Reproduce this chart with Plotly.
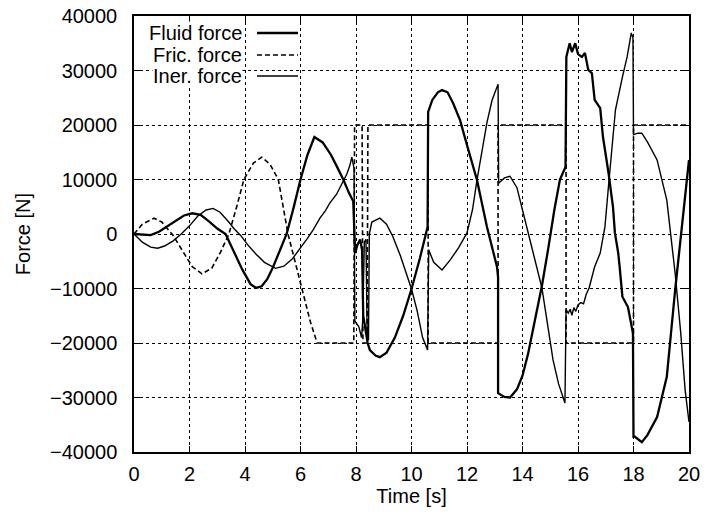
import plotly.graph_objects as go

# ---- data ----
# Fluid force (thick solid)
fluid_t = [0, 0.3, 0.6, 0.9, 1.2, 1.5, 1.8, 2.1, 2.4, 2.7, 3.0, 3.3, 3.6, 3.9, 4.2, 4.4, 4.6, 4.8, 5.0, 5.2,
           5.5, 5.75, 6.0, 6.25, 6.5, 6.8, 7.1, 7.3, 7.55, 7.75, 7.9,
           7.97, 8.05, 8.15, 8.22, 8.26, 8.35, 8.42, 8.5, 8.7, 8.86,
           9.1, 9.4, 9.7, 10.0, 10.3, 10.58,
           10.6, 10.75, 10.95, 11.1, 11.3, 11.5, 11.75, 12.0, 12.36, 12.72, 12.9, 13.08, 13.12,
           13.12, 13.35, 13.55, 13.8, 14.0, 14.2, 14.45, 14.7, 14.93, 15.15, 15.35, 15.55,
           15.58, 15.7, 15.78, 15.9, 16.0, 16.14, 16.25, 16.37, 16.5, 16.6, 16.8, 16.9, 17.1, 17.26, 17.33,
           17.45, 17.5, 17.6, 17.8, 17.98,
           18.0, 18.05, 18.3, 18.5, 18.85, 19.2, 19.5, 19.86, 20.0]
fluid_v = [0, -150, -200, 400, 1400, 2500, 3400, 3800, 3500, 2300, 1000, 0, -3200, -6500, -9200, -9900, -9600, -8300, -6200, -3700,
           0, 4800, 10000, 14500, 17800, 16800, 14500, 12500, 9900, 7500, 6000,
           -3500, -2000, -1000, -3000, -15000, -18000, -20000, -21300, -22300, -22600,
           -21800, -19000, -15000, -10100, -4500, 1300,
           22400, 24600, 26000, 26400, 26000, 24000, 20900, 16300, 9900, 1300, -2500, -6000, -7900,
           -29200, -29900, -30000, -28500, -26000, -22000, -16000, -9500, -2600, 4500, 10000, 12300,
           32500, 35000, 33400, 35000, 33000, 32500, 33200, 30100, 29500, 24600, 23100, 17800, 11200, 5000, 200,
           -3500, -6000, -11500, -13400, -18200,
           -37200, -37200, -38200, -36900, -33600, -26200, -10300, 6200, 13600]

# Friction force (dashed)
fric_t = [0, 0.3, 0.72, 1.0, 1.4, 1.8, 2.1, 2.45, 2.8, 3.1, 3.42, 3.7, 3.96, 4.3, 4.6, 4.9, 5.2, 5.55, 5.8, 6.05,
          6.35, 6.6, 7.92,
          7.95, 8.22, 8.25, 8.4, 8.43, 10.6,
          10.6, 13.12,
          13.12, 15.57,
          15.57, 18.0,
          18.0, 20.0]
fric_v = [0, 1800, 2900, 2200, -200, -3500, -6000, -7300, -6300, -3500, 0, 5000, 10000, 13000, 14100, 12800, 10000, 0, -5000, -9900,
          -16000, -20000, -20000,
          20000, 20000, -20000, -20000, 20000, 20000,
          -20000, -20000,
          20000, 20000,
          -20000, -20000,
          20000, 20000]

# Inertia force (thin solid)
iner_t = [0, 0.3, 0.6, 0.85, 1.1, 1.4, 1.7, 2.0, 2.3, 2.6, 2.85, 3.1, 3.4, 3.6, 3.85, 4.1, 4.4, 4.7, 5.1, 5.4,
          5.7, 6.0, 6.25, 6.45, 6.7, 6.9, 7.06, 7.3, 7.5, 7.67, 7.78, 7.85, 7.93,
          7.96, 8.1, 8.2, 8.24, 8.3, 8.36, 8.4, 8.45, 8.48, 8.57, 8.86,
          9.1, 9.33, 9.6, 9.8, 10.0, 10.2, 10.4, 10.58,
          10.62, 10.8, 11.1, 11.39, 11.7, 12.0, 12.2, 12.36, 12.55, 12.72, 12.9, 13.0, 13.12,
          13.14, 13.35, 13.55, 13.8, 14.0, 14.35, 14.7, 14.9, 15.1, 15.3, 15.53,
          15.57, 15.65, 15.72, 15.78, 15.85, 15.92, 16.0, 16.1, 16.2, 16.3, 16.4, 16.6, 16.8, 16.97,
          17.12, 17.35, 17.6, 17.77, 17.92, 17.98,
          18.0, 18.15, 18.3, 18.5, 18.85, 19.2, 19.5, 19.7, 19.86, 19.96, 20.0]
iner_v = [0, -1500, -2400, -2600, -2200, -1300, 0, 1500, 3300, 4400, 4700, 4000, 2300, 1000, -300, -2000, -3700, -5200, -6300, -5900,
          -4600, -2600, -800, 700, 2900, 4300, 5700, 7300, 9400, 11000, 12600, 14100, 12000,
          -16000, -17000, -19000, -16000, -1500, -1000, -18000, -19500, 0, 2200, 2900,
          1800, -500, -4000, -7000, -10100, -14000, -19000, -21300,
          -2900, -5200, -6600, -4800, -2500, 200, 4500, 9900, 15500, 20500, 24500, 26000, 27500,
          9300, 10300, 10600, 8500, 4400, -2500, -9900, -16500, -23100, -27500, -31000,
          -13900, -14500, -13800, -14900, -13500, -14200, -13000, -12600, -12800, -11000, -9900, -6000, -3500, 1300,
          10000, 22800, 28800, 32500, 36900, 36000,
          18200, 18500, 18500, 16900, 13600, 6200, -7200, -18000, -28600, -32800, -34500]

series_names = ["Fluid force", "Fric. force", "Iner. force"]
x_ticks = [0, 2, 4, 6, 8, 10, 12, 14, 16, 18, 20]
y_ticks = [-40000, -30000, -20000, -10000, 0, 10000, 20000, 30000, 40000]

FONT = "Liberation Sans, Arial, Helvetica, sans-serif"

fig = go.Figure()
fig.add_trace(go.Scatter(x=fluid_t, y=fluid_v, mode="lines", name=series_names[0],
                         line=dict(color="black", width=2.3)))
fig.add_trace(go.Scatter(x=fric_t, y=fric_v, mode="lines", name=series_names[1],
                         line=dict(color="black", width=1.6, dash="5px,3px")))
fig.add_trace(go.Scatter(x=iner_t, y=iner_v, mode="lines", name=series_names[2],
                         line=dict(color="black", width=1.4)))

axis_common = dict(
    showline=True, linecolor="black", linewidth=1.5, mirror="ticks",
    ticks="inside", ticklen=6, tickwidth=1, tickcolor="black",
    showgrid=True, gridcolor="black", gridwidth=1, griddash="dot",
    zeroline=False, automargin=False, tickformat="d",
    tickfont=dict(family=FONT, size=20, color="black"),
)

fig.update_xaxes(range=[0, 20], tickvals=x_ticks, ticklabelstandoff=3,
                 title=dict(text="Time [s]", font=dict(family=FONT, size=20, color="black"), standoff=0),
                 **axis_common)
fig.update_yaxes(range=[-40000, 40000], tickvals=y_ticks, ticklabelstandoff=11,
                 title=dict(text="Force [N]", font=dict(family=FONT, size=20, color="black"), standoff=14),
                 **axis_common)

# plot-area geometry (px) used to place the gnuplot-style key
plot_w, plot_h = 555, 436
# gnuplot style key: label right-aligned, line sample on its right
key_rows_px = [17, 39, 60]        # distance from plot top
key_text_right = 109              # distance from plot left
key_sample = (123, 164)
key_styles = [dict(width=2.3), dict(width=1.6, dash="5px,3px"), dict(width=1.4)]
for name, ypx, st in zip(series_names, key_rows_px, key_styles):
    yp = 1 - ypx / plot_h
    fig.add_annotation(x=key_text_right / plot_w, y=yp, xref="paper", yref="paper",
                       text=name, showarrow=False, xanchor="right", yanchor="middle",
                       font=dict(family=FONT, size=20, color="black"),
                       bgcolor="white", borderpad=0)
    fig.add_shape(type="line", xref="paper", yref="paper",
                  x0=key_sample[0] / plot_w, x1=key_sample[1] / plot_w, y0=yp, y1=yp,
                  line=dict(color="black", **st))

fig.update_layout(
    width=705, height=514,
    margin=dict(l=134, r=16, t=16, b=62),
    paper_bgcolor="white", plot_bgcolor="white",
    showlegend=False,
    font=dict(family=FONT, size=20, color="black"),
)

# remove the default 8px page margin so the figure fills the 705x514 window exactly
fig.write_html("out.html",
               config={"displayModeBar": False},
               post_script="document.body.style.margin='0px';document.body.style.overflow='hidden';")
